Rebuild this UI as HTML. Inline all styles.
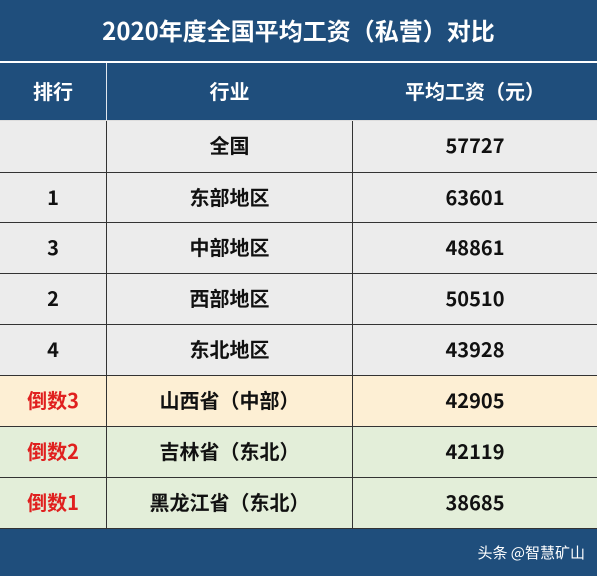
<!DOCTYPE html>
<html><head><meta charset="utf-8"><style>
body{margin:0;width:600px;height:578px;background:#fff;font-family:"Noto Sans CJK SC",sans-serif;font-weight:bold;overflow:hidden;position:relative}
.bar{position:absolute;left:0;width:597px;background:#1f4e7c;color:#fff}
.r{position:absolute;left:0;width:597px;height:51px;border-bottom:1.5px solid #333;box-sizing:border-box}
.c{position:absolute;top:0;height:100%;text-align:center;line-height:48px;font-size:20px;color:#111}
.c1{left:0;width:106px}.c2{left:106px;width:246px;border-left:1.5px solid #333;box-sizing:border-box}.c3{left:352px;width:245px;border-left:1.5px solid #333;box-sizing:border-box}
.red{color:#e0201f}
</style></head><body>
<div class="bar" style="top:0;height:61px;text-align:center;line-height:60px;font-size:24px">2020年度全国平均工资（私营）对比</div>
<div class="bar" style="top:63px;height:58px;border-bottom:1px solid #ddd;box-sizing:border-box">
<div class="c c1" style="color:#fff;line-height:56px">排行</div><div class="c c2" style="color:#fff;border-color:#dfe6ee;line-height:56px">行业</div><div class="c c3" style="color:#fff;border-color:#1f4e7c;line-height:56px">平均工资（元）</div></div>
<div class="r" style="top:121px;background:#ececec;height:52px"><div class="c c1"></div><div class="c c2">全国</div><div class="c c3">57727</div></div>
<div class="r" style="top:173px;background:#ececec;height:50px"><div class="c c1">1</div><div class="c c2">东部地区</div><div class="c c3">63601</div></div>
<div class="r" style="top:223px;background:#ececec"><div class="c c1">3</div><div class="c c2">中部地区</div><div class="c c3">48861</div></div>
<div class="r" style="top:274px;background:#ececec"><div class="c c1">2</div><div class="c c2">西部地区</div><div class="c c3">50510</div></div>
<div class="r" style="top:325px;background:#ececec"><div class="c c1">4</div><div class="c c2">东北地区</div><div class="c c3">43928</div></div>
<div class="r" style="top:376px;background:#fdefd4"><div class="c c1 red">倒数3</div><div class="c c2">山西省（中部）</div><div class="c c3">42905</div></div>
<div class="r" style="top:427px;background:#e3eed9"><div class="c c1 red">倒数2</div><div class="c c2">吉林省（东北）</div><div class="c c3">42119</div></div>
<div class="r" style="top:478px;background:#e3eed9"><div class="c c1 red">倒数1</div><div class="c c2">黑龙江省（东北）</div><div class="c c3">38685</div></div>
<div class="bar" style="top:529px;height:47px"><div style="position:absolute;right:12px;top:13px;font-size:15px;font-weight:normal">头条 @智慧矿山</div></div>
</body></html>
